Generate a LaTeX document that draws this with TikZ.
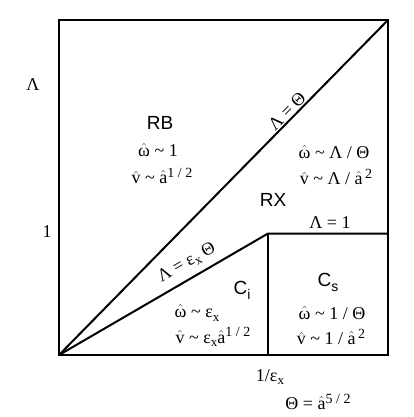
\documentclass[tikz,border=0pt]{standalone}
\usepackage{fontspec}
\newfontfamily\labfont{Liberation Sans}
\newfontfamily\tms{Liberation Serif}
\newcommand{\lsub}[1]{\raisebox{-0.45ex}{\fontsize{13}{13}\selectfont #1}}
\newcommand{\lsup}[1]{\raisebox{0.8ex}{\fontsize{14}{14}\selectfont #1}}
\newcommand{\rsub}[1]{\raisebox{-0.5ex}{\fontsize{14}{14}\selectfont #1}}
\newcommand{\tld}{\textasciitilde}
\newcommand{\hh}[1]{$\hat{\hbox{#1}}$}
\begin{document}
\begin{tikzpicture}[x=1pt,y=-1pt,
  frame/.style={line width=2pt, line join=miter},
  reg/.style={font=\labfont\fontsize{19}{21}\selectfont, inner sep=0pt},
  rel/.style={font=\tms\fontsize{18}{20}\selectfont, inner sep=0pt},
  axis/.style={font=\tms\fontsize{18}{20}\selectfont, inner sep=0pt}]
\useasboundingbox (0,0) rectangle (413,417);
\coordinate (O) at (59,355);
\coordinate (TR) at (388,20);
\coordinate (TL) at (59,20);
\coordinate (BR) at (388,355);
\coordinate (K) at (268,233.5);
\coordinate (KB) at (268,355);
\coordinate (KR) at (388,233.5);
\draw[frame] (TL) rectangle (BR);
\draw[frame] (O) -- (TR);
\draw[frame] (O) -- (K) -- (KR);
\draw[frame] (K) -- (KB);
% axis labels
\node[axis] (lam) at (33,85) {Λ};
\node[axis] (one) at (47,232) {1};
\node[axis] (ieps) at (270,377) {1/ε\lsub{x}};
\node[axis] (theta) at (318,402) {Θ = \hh{a}\lsup{5 / 2}};
% RB
\node[reg] (rb) at (160,123) {RB};
\node[rel] (rb1) at (158,150) {\hh{ω} \tld{} 1};
\node[rel] (rb2) at (162,176) {\hh{v} \tld{} \hh{a}\lsup{1 / 2}};
% RX
\node[rel, rotate=45.5] (lt) at (287,111) {Λ = Θ};
\node[rel] (rx1) at (334,152) {\hh{ω} \tld{} Λ / Θ};
\node[rel] (rx2) at (336,177) {\hh{v} \tld{} Λ / \hh{a}\lsup{\,2}};
\node[reg] (rx) at (273,200) {RX};
\node[rel] (l1) at (330,223) {Λ = 1};
% Ci
\node[rel, rotate=30.2] (le) at (187,263) {Λ = ε\lsub{x} Θ};
\node[reg] (ci) at (242,290) {C\rsub{i}};
\node[rel] (ci1) at (197,313) {\hh{ω} \tld{} ε\lsub{x}};
\node[rel] (ci2) at (213,337) {\hh{v} \tld{} ε\lsub{x}\hh{a}\lsup{1 / 2}};
% Cs
\node[reg] (cs) at (328,282) {C\rsub{s}};
\node[rel] (cs1) at (332,313) {\hh{ω} \tld{} 1 / Θ};
\node[rel] (cs2) at (331,337) {\hh{v} \tld{} 1 / \hh{a}\lsup{\,2}};
\end{tikzpicture}
\end{document}
